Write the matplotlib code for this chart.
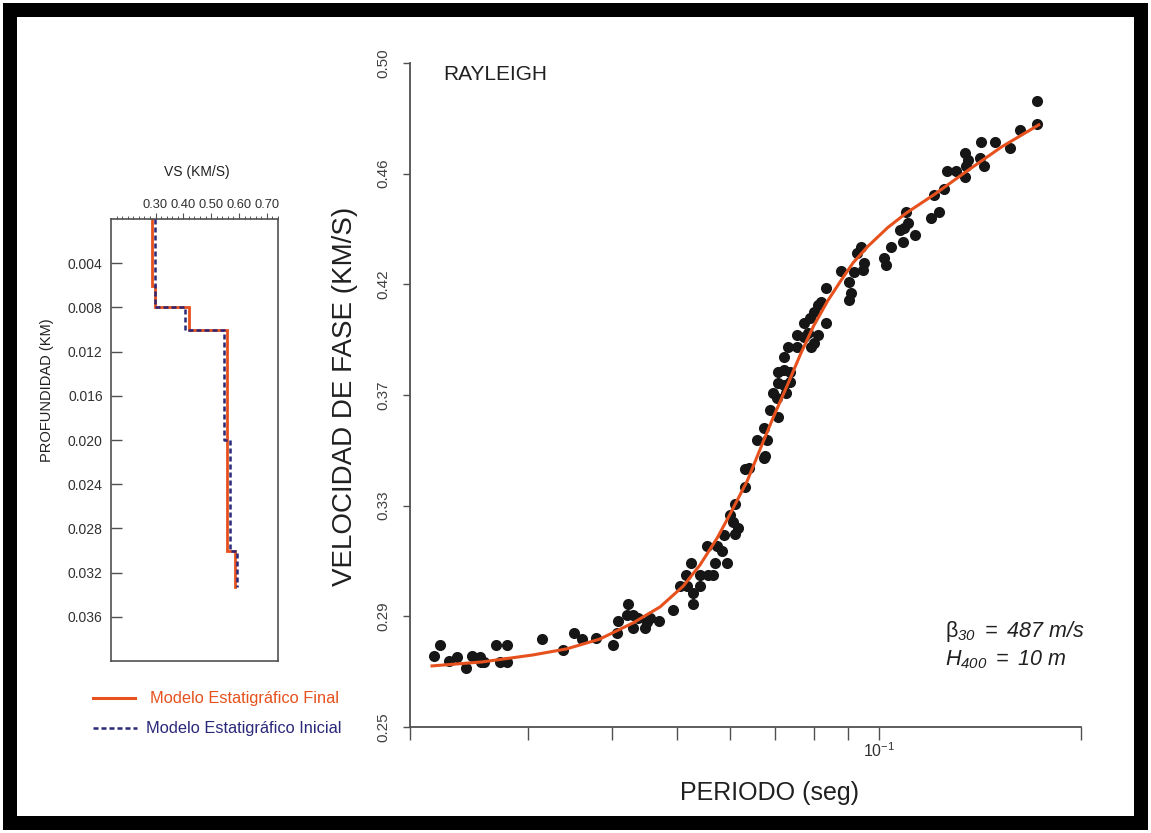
import matplotlib
matplotlib.use("Agg")
import matplotlib.pyplot as plt
from matplotlib.lines import Line2D
from matplotlib.patches import Rectangle
import numpy as np

plt.rcParams['font.family'] = ['Liberation Sans', 'DejaVu Sans']
plt.rcParams['mathtext.fontset'] = 'custom'
plt.rcParams['mathtext.rm'] = 'Liberation Sans:italic'
plt.rcParams['mathtext.it'] = 'Liberation Sans:italic'
plt.rcParams['mathtext.sf'] = 'Liberation Sans'

# ---------------- data: dispersion curve (right panel) ----------------
period_obs = [0.0217, 0.0222, 0.0229, 0.0235, 0.0242, 0.0247, 0.0254, 0.0255, 0.0258,
              0.0269, 0.0272, 0.0279, 0.0279, 0.0315, 0.0338, 0.0351, 0.0361, 0.0378,
              0.0401, 0.0407, 0.0408, 0.0422, 0.0421, 0.0430, 0.0437, 0.0430, 0.0448,
              0.0451, 0.0456, 0.0470, 0.0493, 0.0505, 0.0518, 0.0529, 0.0529, 0.0541,
              0.0516, 0.0525, 0.0541, 0.0557, 0.0566, 0.0570, 0.0594,
              0.0555, 0.0574, 0.0584, 0.0588, 0.0611, 0.0617, 0.0605, 0.0600, 0.0611,
              0.0632, 0.0632, 0.0641, 0.0673, 0.0677, 0.0657, 0.0682, 0.0675, 0.0706,
              0.0687, 0.0704, 0.0696, 0.0726, 0.0706, 0.0721, 0.0708, 0.0721, 0.0738,
              0.0738, 0.0721, 0.0733, 0.0756, 0.0756, 0.0772, 0.0791, 0.0799, 0.0810,
              0.0772, 0.0788, 0.0799, 0.0810, 0.0833, 0.0783, 0.0819,
              0.0833, 0.0877, 0.0902, 0.0908, 0.0902, 0.0917, 0.0946, 0.0950, 0.0927,
              0.0940, 0.1017, 0.1024, 0.1042, 0.1086, 0.1075, 0.1090, 0.1105, 0.1132,
              0.1098, 0.1196, 0.1230, 0.1209, 0.1251, 0.1264, 0.1304, 0.1345, 0.1359,
              0.1350, 0.1345, 0.1412, 0.1436, 0.1421, 0.1487, 0.1565, 0.1620, 0.1718,
              0.1718]
velocity_obs = [0.2767, 0.2809, 0.2748, 0.2764, 0.2722, 0.2767, 0.2764, 0.2745, 0.2745,
                0.2809, 0.2745, 0.2809, 0.2745, 0.2831, 0.2790, 0.2854, 0.2831, 0.2835,
                0.2809, 0.2854, 0.2899, 0.2963, 0.2922, 0.2922, 0.2910, 0.2873, 0.2873,
                0.2895, 0.2910, 0.2899, 0.2941, 0.3031, 0.3031, 0.3005, 0.2963, 0.3031,
                0.3072, 0.3117, 0.3072, 0.3072, 0.3072, 0.3117, 0.3117,
                0.3181, 0.3181, 0.3163, 0.3223, 0.3227, 0.3249, 0.3272, 0.3298, 0.3340,
                0.3404, 0.3471, 0.3475, 0.3513, 0.3520, 0.3581, 0.3581, 0.3626, 0.3667,
                0.3694, 0.3739, 0.3758, 0.3758, 0.3795, 0.3788, 0.3837, 0.3844, 0.3837,
                0.3799, 0.3893, 0.3931, 0.3931, 0.3976, 0.3968, 0.3931, 0.3946, 0.3976,
                0.4021, 0.4040, 0.4063, 0.4089, 0.4021, 0.3983, 0.4100,
                0.4153, 0.4217, 0.4175, 0.4134, 0.4108, 0.4213, 0.4221, 0.4247, 0.4285,
                0.4307, 0.4266, 0.4239, 0.4307, 0.4326, 0.4371, 0.4379, 0.4398, 0.4352,
                0.4439, 0.4416, 0.4439, 0.4503, 0.4526, 0.4593, 0.4593, 0.4661, 0.4635,
                0.4612, 0.4571, 0.4642, 0.4612, 0.4703, 0.4703, 0.4680, 0.4748, 0.4770,
                0.4857]

period_fit = [0.02157, 0.02563, 0.03045, 0.03423, 0.03836, 0.0430, 0.04717, 0.05106,
              0.0541, 0.0574, 0.0600, 0.06366, 0.0666, 0.0696, 0.0731, 0.07642, 0.0799,
              0.08388, 0.0877, 0.0915, 0.09628, 0.1030, 0.1098, 0.1209, 0.1359, 0.15228,
              0.1730]
velocity_fit = [0.2730, 0.2745, 0.2771, 0.2794, 0.2831, 0.2892, 0.2952, 0.3030,
                0.3110, 0.3212, 0.3302, 0.3428, 0.3550, 0.3667, 0.3790, 0.3905, 0.4010,
                0.4105, 0.4180, 0.4248, 0.4310, 0.4380, 0.4435, 0.4505, 0.4597, 0.4684,
                0.4767]

vel_ticks_labels = ['0.25', '0.29', '0.33', '0.37', '0.42', '0.46', '0.50']
vel_range = (0.25, 0.50)
period_range = (0.02, 0.2)
period_minor = [0.02, 0.03, 0.04, 0.05, 0.06, 0.07, 0.08, 0.09, 0.2]

# ---------------- data: velocity profiles (left panel) ----------------
final_depths = [0.0, 0.0061, 0.008, 0.010, 0.030, 0.0333]
final_vs = [0.287, 0.298, 0.42, 0.557, 0.586]
init_depths = [0.0, 0.008, 0.010, 0.020, 0.030, 0.0333]
init_vs = [0.298, 0.405, 0.546, 0.568, 0.593]
depth_ticks = [0.004, 0.008, 0.012, 0.016, 0.020, 0.024, 0.028, 0.032, 0.036]
vs_ticks = [0.30, 0.40, 0.50, 0.60, 0.70]

RED = '#E6511D'
BLUE = '#2A2878'
W, H = 1151, 833

fig = plt.figure(figsize=(W / 100, H / 100), dpi=100)
fig.patch.set_facecolor('white')

# black frame
fig.add_artist(Rectangle((10 / W, 10 / H), 1131 / W, 813 / H, transform=fig.transFigure,
                         fill=False, edgecolor='black', linewidth=14 * 0.72, zorder=0))

# ---------------- right panel ----------------
axR = fig.add_axes([410 / W, 1 - 727 / H, (1081 - 410) / W, (727 - 63) / H])
axR.set_xscale('log')
axR.set_xlim(*period_range)
axR.set_ylim(*vel_range)
for s in ('top', 'right'):
    axR.spines[s].set_visible(False)
for s in ('left', 'bottom'):
    axR.spines[s].set_color('#505050')
    axR.spines[s].set_linewidth(1.3)

axR.scatter(period_obs, velocity_obs, s=64, color='#161616', zorder=2, linewidths=0)
axR.plot(period_fit, velocity_fit, color=RED, lw=2.2, zorder=3)

axR.set_xticks([0.1])
axR.set_xticklabels([r'$\mathsf{10}^{\mathsf{-1}}$'])
axR.set_xticks(period_minor, minor=True)
axR.set_xticklabels([''] * len(period_minor), minor=True)
axR.tick_params(axis='x', which='both', direction='out', length=9, width=1.0,
                color='#505050', labelsize=11.5, labelcolor='#303030', pad=1)

yt = np.linspace(vel_range[0], vel_range[1], len(vel_ticks_labels))
axR.set_yticks(yt)
axR.set_yticklabels(vel_ticks_labels, rotation=90, va='center')
axR.tick_params(axis='y', direction='out', length=5, width=1.0, color='#505050',
                labelsize=11, labelcolor='#404040', pad=9)

fig.text(443 / W, 1 - 75 / H, 'RAYLEIGH', fontsize=15, color='#202020', va='center', ha='left')
fig.text(345 / W, 1 - 396 / H, 'VELOCIDAD DE FASE (KM/S)', rotation=90, fontsize=20,
         color='#202020', va='center', ha='center')
fig.text(770 / W, 1 - 793 / H, 'PERIODO (seg)', fontsize=18, color='#202020',
         va='center', ha='center')
fig.text(945 / W, 1 - 632 / H, r'$\mathsf{\beta}_{30}\ =\ 487\ m/s$',
         fontsize=15.5, color='#202020', va='center', ha='left')
fig.text(945 / W, 1 - 660 / H, r'$H_{400}\ =\ 10\ m$',
         fontsize=15.5, color='#202020', va='center', ha='left')

# ---------------- left panel ----------------
axL = fig.add_axes([111 / W, 1 - 661 / H, (278 - 111) / W, (661 - 219) / H])
axL.set_xlim(0.14, 0.74)
axL.set_ylim(0.04, 0.0)
for s in axL.spines.values():
    s.set_color('#505050')
    s.set_linewidth(1.2)


def profile(depths, vs):
    xs, ys = [], []
    for i, v in enumerate(vs):
        xs += [v, v]
        ys += [depths[i], depths[i + 1]]
    return xs, ys


fx, fy = profile(final_depths, final_vs)
ix, iy = profile(init_depths, init_vs)
axL.plot(fx, fy, color=RED, lw=2.0, solid_joinstyle='miter', zorder=2)
axL.plot(ix, iy, color=BLUE, lw=1.8, linestyle=(0, (2.0, 1.2)), zorder=3)

axL.xaxis.set_ticks_position('top')
axL.xaxis.set_label_position('top')
axL.set_xticks(vs_ticks)
axL.set_xticklabels([f'{v:.2f}' for v in vs_ticks])
axL.set_xticks(np.arange(0.16, 0.741, 0.02), minor=True)
axL.tick_params(axis='x', which='major', direction='out', length=4, width=0.8,
                color='#505050', labelsize=9.3, labelcolor='#303030', pad=2)
axL.tick_params(axis='x', which='minor', direction='out', length=2.5, width=0.7,
                color='#505050')
axL.set_yticks(depth_ticks)
axL.set_yticklabels([f'{d:.3f}' for d in depth_ticks])
axL.tick_params(axis='y', direction='in', length=8, width=1.0, color='#505050',
                labelsize=10, labelcolor='#303030', pad=6, right=False)

fig.text(197 / W, 1 - 172 / H, 'VS (KM/S)', fontsize=10, color='#202020', ha='center', va='center')
fig.text(47 / W, 1 - 390 / H, 'PROFUNDIDAD (KM)', fontsize=10.5, rotation=90, color='#202020',
         ha='center', va='center')

# legend
fig.add_artist(Line2D([93 / W, 135 / W], [1 - 698 / H] * 2, color=RED, lw=2.2,
                      transform=fig.transFigure))
fig.text(150 / W, 1 - 698 / H, 'Modelo Estatigráfico Final', fontsize=11.8, color=RED,
         ha='left', va='center')
fig.add_artist(Line2D([93 / W, 137 / W], [1 - 728 / H] * 2, color=BLUE, lw=1.8,
                      linestyle=(0, (2.0, 1.2)), transform=fig.transFigure))
fig.text(146 / W, 1 - 728 / H, 'Modelo Estatigráfico Inicial', fontsize=11.8, color=BLUE,
         ha='left', va='center')

fig.savefig('out.png', dpi=100, facecolor='white')
